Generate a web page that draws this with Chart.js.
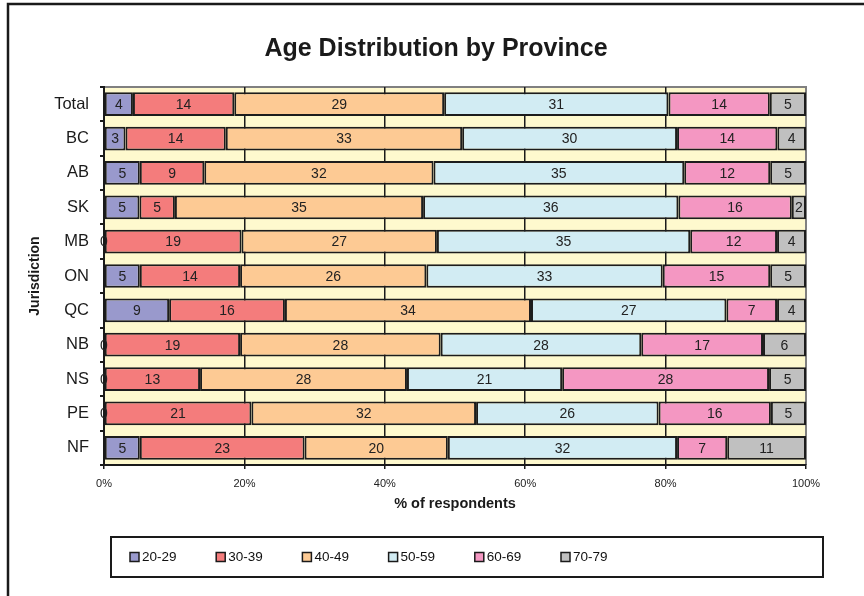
<!DOCTYPE html>
<html lang="en">
  <head>
    <meta charset="UTF-8" />
    <title>Age Distribution by Province</title>
    <script src="https://cdn.jsdelivr.net/npm/chart.js"></script>
    <style>
      html, body { margin: 0; padding: 0; background: #fff; }
      .wrap { width: 864px; height: 596px; position: relative; }
    </style>
  </head>
  <body>
    <div class="wrap"><canvas id="chart"></canvas></div>
    <script>
      // raw survey percentages, one array per age group
      const provinces = ["Total", "BC", "AB", "SK", "MB", "ON", "QC", "NB", "NS", "PE", "NF"];
      const ageGroups = ["20-29", "30-39", "40-49", "50-59", "60-69", "70-79"];
      const age2029 = [4, 3, 5, 5, 0, 5, 9, 0, 0, 0, 5];
      const age3039 = [14, 14, 9, 5, 19, 14, 16, 19, 13, 21, 23];
      const age4049 = [29, 33, 32, 35, 27, 26, 34, 28, 28, 32, 20];
      const age5059 = [31, 30, 35, 36, 35, 33, 27, 28, 21, 26, 32];
      const age6069 = [14, 14, 12, 16, 12, 15, 7, 17, 28, 16, 7];
      const age7079 = [5, 4, 5, 2, 4, 5, 4, 6, 5, 5, 11];
      const xTickLabels = ["0%", "20%", "40%", "60%", "80%", "100%"];

      const colors = ["#9999CC", "#F47C7C", "#FDCA94", "#D2ECF3", "#F497C2", "#C0C0C0"];
      const FONT = "'Liberation Sans', Arial, sans-serif";

      const series = [age2029, age3039, age4049, age5059, age6069, age7079];
      // 100% stacked: each row scaled by its own total
      const rowTotals = provinces.map((p, i) => series.reduce((s, arr) => s + arr[i], 0));

      const datasets = series.map((arr, k) => ({
        label: ageGroups[k],
        raw: arr,
        data: arr.map((v, i) => (v / rowTotals[i]) * 100),
        backgroundColor: colors[k],
        borderColor: "#1c1c1c",
        borderWidth: 2,
        borderSkipped: false,
        barPercentage: 0.69,
        categoryPercentage: 1,
      }));

      const frame = {
        id: "frame",
        afterLayout(chart) {
          // title sits a bit right of the canvas centre in the original
          if (chart.titleBlock) chart.titleBlock.right = 872;
        },
        beforeDraw(chart) {
          const { ctx, chartArea: a } = chart;
          ctx.save();
          ctx.fillStyle = "#FEF9CE";
          ctx.fillRect(a.left, a.top, a.right - a.left, a.bottom - a.top);
          ctx.strokeStyle = "#808080";
          ctx.lineWidth = 2;
          ctx.beginPath();
          ctx.moveTo(a.left, a.top);
          ctx.lineTo(a.right, a.top);
          ctx.lineTo(a.right, a.bottom);
          ctx.stroke();
          // outer chart border (cut off on right and bottom)
          ctx.strokeStyle = "#1a1a1a";
          ctx.lineWidth = 2.5;
          ctx.strokeRect(8, 4, 900, 640);
          ctx.restore();
        },
        afterDatasetsDraw(chart) {
          const { ctx } = chart;
          ctx.save();
          ctx.font = "14px " + FONT;
          ctx.fillStyle = "#222";
          ctx.textAlign = "center";
          ctx.textBaseline = "middle";
          chart.data.datasets.forEach((ds, k) => {
            chart.getDatasetMeta(k).data.forEach((bar, i) => {
              ctx.fillText(String(ds.raw[i]), (bar.x + bar.base) / 2, bar.y + 1);
            });
          });
          ctx.restore();
        },
        afterDraw(chart) {
          const { ctx } = chart;
          ctx.save();
          // legend box
          ctx.strokeStyle = "#1a1a1a";
          ctx.lineWidth = 2;
          ctx.strokeRect(111, 537, 712, 40);
          ctx.font = "13.5px " + FONT;
          ctx.textBaseline = "middle";
          ctx.textAlign = "left";
          chart.data.datasets.forEach((ds, k) => {
            const x = 130 + k * 86.2;
            ctx.fillStyle = ds.backgroundColor;
            ctx.fillRect(x, 552.5, 9, 9);
            ctx.lineWidth = 1.5;
            ctx.strokeStyle = "#1a1a1a";
            ctx.strokeRect(x, 552.5, 9, 9);
            ctx.fillStyle = "#111";
            ctx.fillText(ds.label, x + 12, 557.5);
          });
          ctx.restore();
        },
      };

      new Chart(document.getElementById("chart"), {
        type: "bar",
        data: { labels: provinces, datasets },
        plugins: [frame],
        options: {
          indexAxis: "y",
          responsive: true,
          maintainAspectRatio: false,
          animation: false,
          devicePixelRatio: 1,
          layout: { padding: { left: 0, right: 58, top: 0, bottom: 81 } },
          plugins: {
            legend: { display: false },
            tooltip: { enabled: false },
            title: {
              display: true,
              text: "Age Distribution by Province",
              color: "#1a1a1a",
              font: { family: FONT, size: 25, weight: "bold" },
              padding: { top: 34, bottom: 23 },
            },
          },
          scales: {
            x: {
              stacked: true,
              min: 0,
              max: 100,
              afterFit: (s) => { s.height = 50; },
              ticks: {
                stepSize: 20,
                padding: 8,
                color: "#222",
                font: { family: FONT, size: 11 },
                callback: (v) => xTickLabels[v / 20],
              },
              grid: {
                color: (c) => (c.index === 5 ? "#808080" : "#1a1a1a"),
                tickColor: "#1a1a1a",
                lineWidth: 1.5,
                tickLength: 4,
              },
              border: { color: "#1a1a1a", width: 2 },
              title: {
                display: true,
                text: "% of respondents",
                color: "#1a1a1a",
                font: { family: FONT, size: 14.5, weight: "bold" },
                padding: { top: 0, bottom: 2 },
              },
            },
            y: {
              stacked: true,
              afterFit: (s) => { s.width = 104; },
              ticks: {
                padding: 11,
                color: "#1a1a1a",
                font: { family: FONT, size: 16.5 },
              },
              grid: {
                drawOnChartArea: false,
                tickColor: "#1a1a1a",
                lineWidth: 2,
                tickLength: 4,
              },
              border: { color: "#1a1a1a", width: 2 },
              title: {
                display: true,
                text: "Jurisdiction",
                color: "#1a1a1a",
                font: { family: FONT, size: 14, weight: "bold" },
                padding: { top: 27, bottom: 0 },
              },
            },
          },
        },
      });
    </script>
  </body>
</html>
